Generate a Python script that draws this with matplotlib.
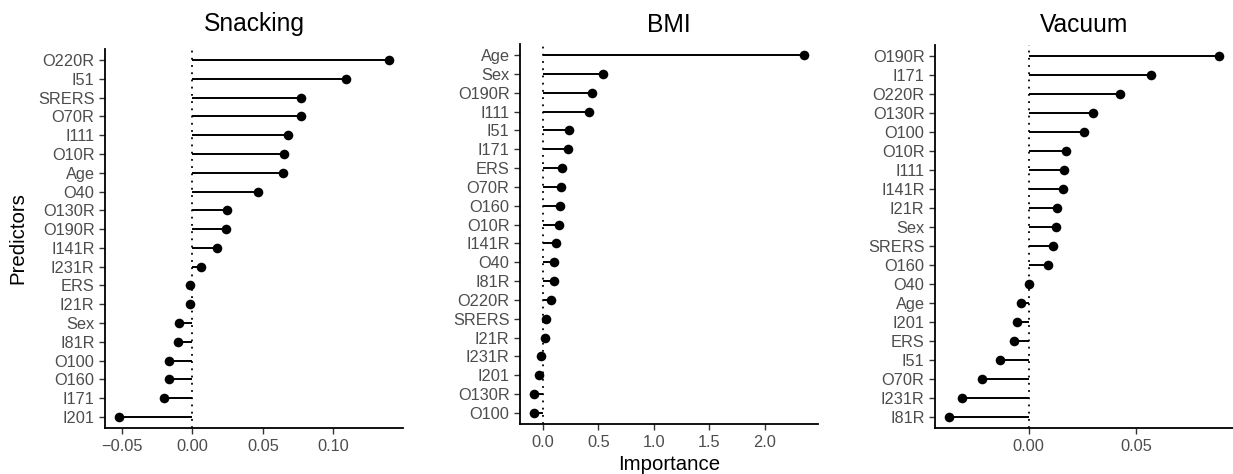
import matplotlib
matplotlib.use("Agg")
import matplotlib.pyplot as plt
import numpy as np

plt.rcParams['font.family'] = ['Liberation Sans', 'DejaVu Sans']

# ---- data (top row first) ----
snack_labels = ["O220R", "I51", "SRERS", "O70R", "I111", "O10R", "Age", "O40",
                "O130R", "O190R", "I141R", "I231R", "ERS", "I21R", "Sex", "I81R",
                "O100", "O160", "I171", "I201"]
snack_values = [0.1398, 0.1092, 0.0771, 0.0771, 0.0682, 0.0651, 0.0641, 0.0465,
                0.0243, 0.0239, 0.0177, 0.0061, -0.0014, -0.0014, -0.0094, -0.0099,
                -0.0167, -0.0167, -0.0198, -0.0523]

bmi_labels = ["Age", "Sex", "O190R", "I111", "I51", "I171", "ERS", "O70R", "O160",
              "O10R", "I141R", "O40", "I81R", "O220R", "SRERS", "I21R", "I231R",
              "I201", "O130R", "O100"]
bmi_values = [2.36, 0.543, 0.444, 0.414, 0.240, 0.225, 0.171, 0.165, 0.153,
              0.144, 0.120, 0.105, 0.099, 0.072, 0.024, 0.021, -0.021,
              -0.036, -0.078, -0.084]

vac_labels = ["O190R", "I171", "O220R", "O130R", "O100", "O10R", "I111", "I141R",
              "I21R", "Sex", "SRERS", "O160", "O40", "Age", "I201", "ERS", "I51",
              "O70R", "I231R", "I81R"]
vac_values = [0.0885, 0.0569, 0.0426, 0.0300, 0.0257, 0.0172, 0.0162, 0.0160,
              0.0131, 0.0126, 0.0115, 0.0088, 0.0000, -0.0037, -0.0055, -0.0069,
              -0.0134, -0.0214, -0.0308, -0.0371]

titles = ["Snacking", "BMI", "Vacuum"]
snack_xticks = [-0.05, 0.00, 0.05, 0.10]
snack_xticklabels = ["\u22120.05", "0.00", "0.05", "0.10"]
bmi_xticks = [0.0, 0.5, 1.0, 1.5, 2.0]
bmi_xticklabels = ["0.0", "0.5", "1.0", "1.5", "2.0"]
vac_xticks = [0.00, 0.05]
vac_xticklabels = ["0.00", "0.05"]

W, H = 1233, 474
fig = plt.figure(figsize=(W / 100, H / 100), dpi=100)

# axes boxes in pixels: (left, top, right, bottom)
boxes = [(105, 48.7, 403, 428.3), (520, 43.7, 818, 424.3), (935, 44.6, 1233, 428.4)]

panels = [
    (snack_labels, snack_values, snack_xticks, snack_xticklabels),
    (bmi_labels, bmi_values, bmi_xticks, bmi_xticklabels),
    (vac_labels, vac_values, vac_xticks, vac_xticklabels),
]

text_col = "#4D4D4D"
tick_col = "#333333"

for (labels, values, xt, xtl), box, title in zip(panels, boxes, titles):
    l, t, r, b = box
    ax = fig.add_axes([l / W, (H - b) / H, (r - l) / W, (b - t) / H])
    n = len(labels)
    y = np.arange(n, 0, -1)
    vals = np.array(values)
    ax.axvline(0, color="black", lw=1.3, linestyle=(0, (1, 3)), zorder=1)
    ax.hlines(y, 0, vals, color="black", lw=1.4, zorder=2)
    ax.scatter(vals, y, s=48, color="black", zorder=3, linewidths=0)
    ax.margins(x=0.05)
    ax.set_ylim(0.4, n + 0.6)
    ax.set_yticks(y)
    ax.set_yticklabels(labels)
    ax.set_xticks(xt)
    ax.set_xticklabels(xtl)
    for s in ["top", "right"]:
        ax.spines[s].set_visible(False)
    for s in ["left", "bottom"]:
        ax.spines[s].set_linewidth(1.3)
        ax.spines[s].set_color("black")
    ax.tick_params(axis="both", labelsize=11.8, labelcolor=text_col, color=tick_col,
                   length=4, width=1.0, pad=3.5)
    ax.set_facecolor("white")
    cx = (l + r) / 2 / W
    fig.text(cx, (H - 31.5) / H, title, ha="center", va="baseline", fontsize=17.7,
             color="black")

fig.text(18 / W, (H - 238.5) / H, "Predictors", rotation=90, ha="center", va="center",
         fontsize=14.7, color="black")
fig.text(669 / W, (H - 470.5) / H, "Importance", ha="center", va="baseline",
         fontsize=14.7, color="black")

fig.savefig("out.png", dpi=100, facecolor="white")
